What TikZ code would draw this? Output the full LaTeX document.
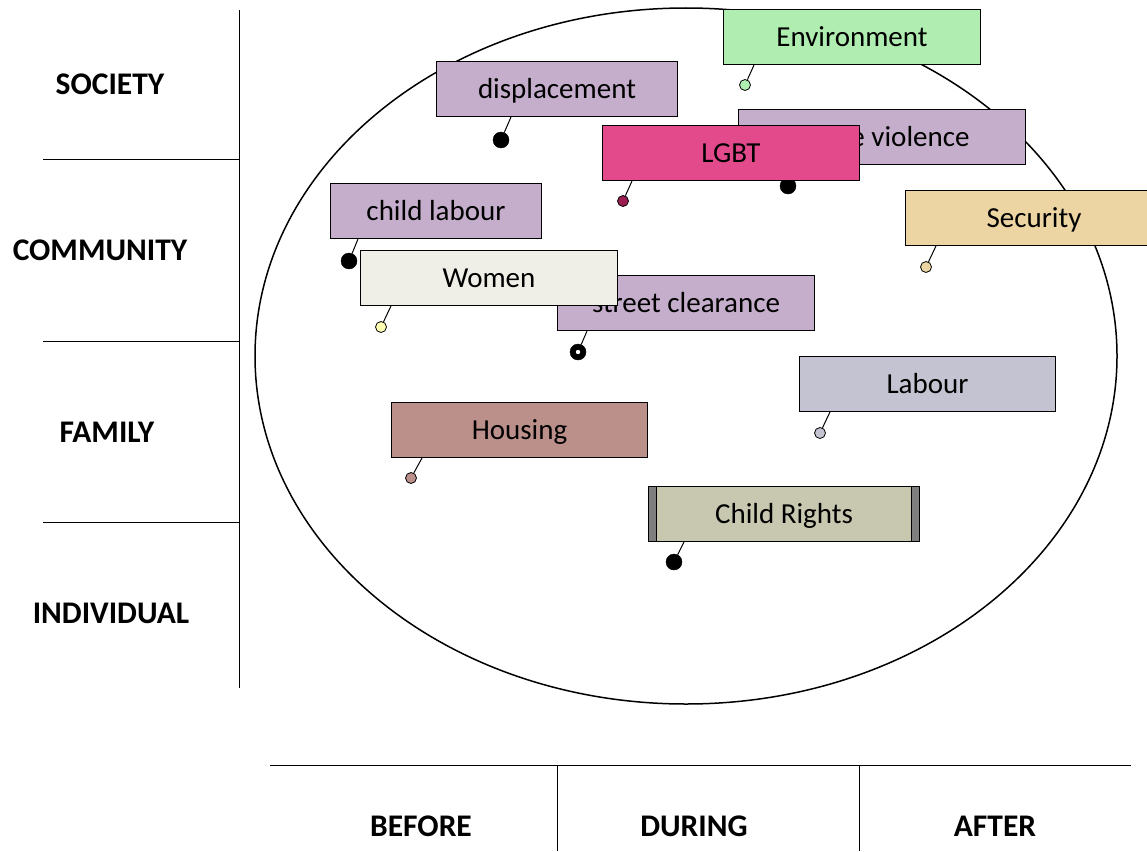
\documentclass[tikz,border=0pt]{standalone}
\usepackage{fontspec}
\setmainfont{Carlito}
\begin{document}
\begin{tikzpicture}[x=1pt,y=-1pt,
  box/.style={draw=black,line width=1pt,rectangle,inner sep=0pt,anchor=north west,
    minimum width=257pt,minimum height=55pt,font=\fontsize{29}{32}\selectfont,text=black,
    text height=20pt,text depth=2pt},
  lvl/.style={font=\bfseries\fontsize{31.5}{34}\selectfont,inner sep=0pt},
  bigdot/.style={circle,fill=black,draw=black,inner sep=0pt,minimum size=16pt},
  smalldot/.style={circle,draw=black,line width=0.8pt,inner sep=0pt,minimum size=11pt},
  pinline/.style={line width=1pt}]
\definecolor{lilac}{HTML}{C4AECB}
\definecolor{lgbt}{HTML}{E34A8C}
\definecolor{lgbtdot}{HTML}{9B1D52}
\definecolor{envc}{HTML}{B0EDB0}
\definecolor{womenc}{HTML}{EFEFE8}
\definecolor{womendot}{HTML}{FFFFB3}
\definecolor{secc}{HTML}{EDD5A3}
\definecolor{labc}{HTML}{C3C3D1}
\definecolor{housc}{HTML}{BB908B}
\definecolor{crc}{HTML}{C8C8B0}
\definecolor{barc}{HTML}{7F7F7F}
\useasboundingbox[fill=white] (0,0) rectangle (1147,851);

% left axis
\draw[line width=1pt] (239,10) -- (239,688);
\foreach \yy in {159,341,522} \draw[line width=1pt] (43,\yy) -- (239,\yy);
\node[lvl] (soc) at (110,84) {SOCIETY};
\node[lvl] (com) at (100,250) {COMMUNITY};
\node[lvl] (fam) at (107,432) {FAMILY};
\node[lvl] (ind) at (111,613) {INDIVIDUAL};

% bottom axis
\draw[line width=1pt] (270,765) -- (1131,765);
\draw[line width=1pt] (557,765) -- (557,851);
\draw[line width=1pt] (859,765) -- (859,851);
\node[lvl] (bef) at (421,826) {BEFORE};
\node[lvl] (dur) at (694,826) {DURING};
\node[lvl] (aft) at (995,826) {AFTER};

% ellipse
\draw[line width=1.5pt] (686,356) ellipse [x radius=431, y radius=348];

% Environment
\node[box,fill=envc] (env) at (723,9) {Environment};
\node[smalldot,fill=envc] (envd) at (745,85) {};
\draw[pinline] ([xshift=31pt]env.south west) -- (envd);

% displacement
\node[box,fill=lilac,minimum width=241pt] (disp) at (436,61) {displacement};
\node[bigdot] (dispd) at (501,140) {};
\draw[pinline] ([xshift=75pt]disp.south west) -- (dispd);

% violence
\node[box,fill=lilac,minimum width=287pt] (viol) at (738,109) {police violence};
\node[bigdot] (viold) at (788,186) {};
\draw[pinline] ([xshift=60pt]viol.south west) -- (viold);

% LGBT
\node[box,fill=lgbt] (lgbt) at (602,125) {LGBT};
\node[smalldot,fill=lgbtdot] (lgbtd) at (623,201) {};
\draw[pinline] ([xshift=30pt]lgbt.south west) -- (lgbtd);

% child labour
\node[box,fill=lilac,minimum width=211pt] (cl) at (330,183) {child labour};
\node[bigdot] (cld) at (349,261) {};
\draw[pinline] ([xshift=28pt]cl.south west) -- (cld);

% street clearance
\node[box,fill=lilac] (sc) at (557,275) {street clearance};
\node[bigdot] (scd) at (578,352) {};
\fill[white] (scd) circle (2.2pt);
\draw[pinline] ([xshift=30pt]sc.south west) -- (scd);

% Women
\node[box,fill=womenc] (wom) at (360,250) {Women};
\node[smalldot,fill=womendot] (womd) at (381,327) {};
\draw[pinline] ([xshift=31pt]wom.south west) -- (womd);

% Security
\node[box,fill=secc,minimum width=257pt] (sec) at (905,190) {Security};
\node[smalldot,fill=secc] (secd) at (926,267) {};
\draw[pinline] ([xshift=31pt]sec.south west) -- (secd);

% Labour
\node[box,fill=labc,minimum width=256pt] (lab) at (799,356) {Labour};
\node[smalldot,fill=labc] (labd) at (820,433) {};
\draw[pinline] ([xshift=31pt]lab.south west) -- (labd);

% Housing
\node[box,fill=housc,minimum width=256pt] (hous) at (391,402) {Housing};
\node[smalldot,fill=housc] (housd) at (411,478) {};
\draw[pinline] ([xshift=31pt]hous.south west) -- (housd);

% Child Rights
\node[box,fill=barc,minimum width=271pt] (cro) at (648,486) {};
\node[box,fill=crc,minimum width=255pt] (cr) at (656,486) {Child Rights};
\node[bigdot] (crd) at (674,562) {};
\draw[pinline] ([xshift=28pt]cr.south west) -- (crd);
\end{tikzpicture}
\end{document}
